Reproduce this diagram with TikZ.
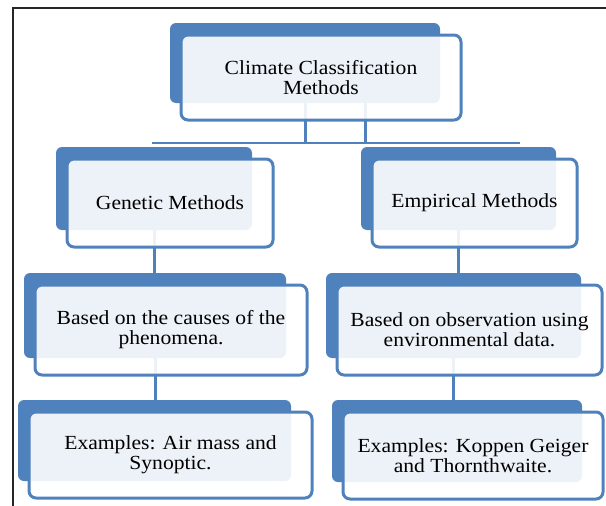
\documentclass[tikz,border=0pt]{standalone}
\usepackage{fontspec}
\setmainfont{Liberation Serif}[FakeStretch=1.08]
\definecolor{boxblue}{HTML}{4F81BD}
\tikzset{
  backbox/.style={fill=boxblue, rounded corners=6pt, inner sep=0pt},
  frontbox/.style={draw=boxblue, line width=3pt, fill=white, fill opacity=0.9,
    text opacity=1, rounded corners=7pt, inner sep=0pt, align=center,
    font=\fontsize{20}{20}\selectfont},
  link/.style={draw=boxblue, line width=3pt}
}
% name / front box corners (x1,y1,x2,y2) / text
\def\boxlist{top/181/35/461/120/{Climate Classification\\Methods},
  gen/67/159/273/247/{Genetic Methods},
  emp/372/159/577/247/{Empirical Methods},
  cause/35/285/307/375/{Based on the causes of the\\phenomena.},
  obs/337/285/602/375/{Based on observation using\\environmental data.},
  air/29/412/312/498/{Examples: Air mass and\\Synoptic.},
  kop/343/412/603/499/{Examples: Koppen Geiger\\and Thornthwaite.}}
\begin{document}
\begin{tikzpicture}[x=1pt,y=-1pt]
  \useasboundingbox (0,0) rectangle (606,506);

  % Bakre boksar
  \foreach \n/\xa/\ya/\xb/\yb/\txt in \boxlist {
    \node[backbox, minimum width={\xb-\xa-10}, minimum height={\yb-\ya-5}]
      (\n B) at ({(\xa+\xb)/2-16},{(\ya+\yb)/2-14.5}) {};
  }

  % Koplingar
  \coordinate (barL) at (152,143);
  \coordinate (barR) at (520,143);
  \draw[link] (topB.south) -- (topB.south |- barL);
  \draw[link] ([xshift=60pt]topB.south) -- ([xshift=60pt]topB.south |- barL);
  \draw[draw=boxblue, line width=2.4pt] (barL) -- (barR);
  \draw[link] (genB.south) -- (genB.south |- causeB.north);
  \draw[link] (causeB.south) -- (causeB.south |- airB.north);
  \draw[link] (empB.south) -- (empB.south |- obsB.north);
  \draw[link] (obsB.south) -- (obsB.south |- kopB.north);

  % Fremre boksar
  \foreach \n/\xa/\ya/\xb/\yb/\txt in \boxlist {
    \node[frontbox, minimum width={\xb-\xa}, minimum height={\yb-\ya}]
      (\n) at ({(\xa+\xb)/2},{(\ya+\yb)/2}) {\txt};
  }

  % Ramme
  \draw[line width=1.2pt, black!85] (13,506) -- (13,8) -- (606,8);
\end{tikzpicture}
\end{document}
